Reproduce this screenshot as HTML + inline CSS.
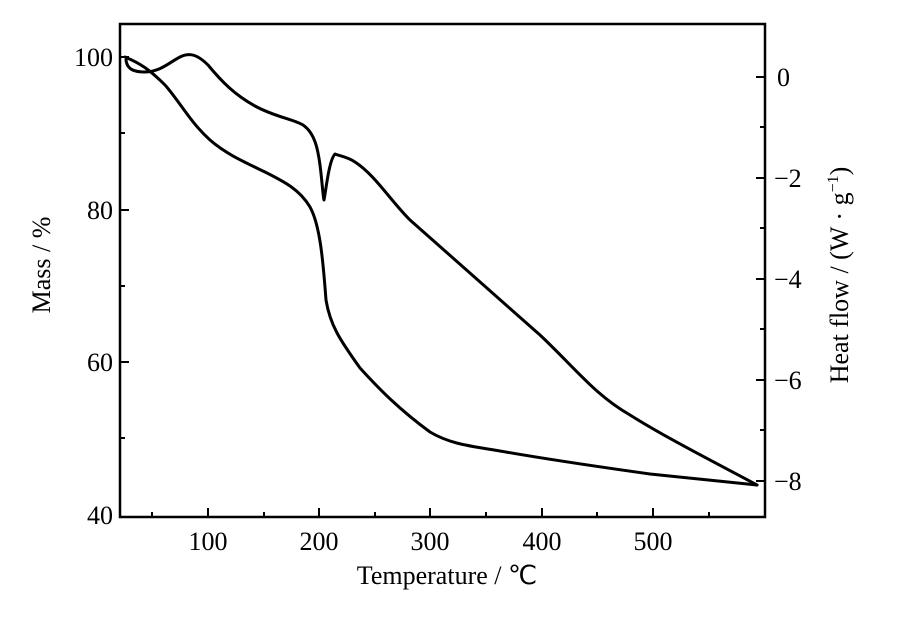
<!DOCTYPE html>
<html><head><meta charset="utf-8"><style>
body{margin:0;background:#fff}
svg text{font-family:"Liberation Serif",serif;fill:#000}
</style></head><body>
<svg width="900" height="619" viewBox="0 0 900 619">
<rect x="120" y="24" width="645" height="493" fill="none" stroke="#000" stroke-width="2.5"/>
<g stroke="#000" stroke-width="2">
<line x1="208" y1="517" x2="208" y2="508"/><line x1="319" y1="517" x2="319" y2="508"/>
<line x1="430" y1="517" x2="430" y2="508"/><line x1="542" y1="517" x2="542" y2="508"/>
<line x1="653" y1="517" x2="653" y2="508"/>
<line x1="152" y1="517" x2="152" y2="512"/><line x1="264" y1="517" x2="264" y2="512"/>
<line x1="375" y1="517" x2="375" y2="512"/><line x1="486" y1="517" x2="486" y2="512"/>
<line x1="597" y1="517" x2="597" y2="512"/><line x1="709" y1="517" x2="709" y2="512"/>
<line x1="120" y1="57" x2="129" y2="57"/><line x1="120" y1="210" x2="129" y2="210"/>
<line x1="120" y1="362" x2="129" y2="362"/>
<line x1="120" y1="133" x2="125" y2="133"/><line x1="120" y1="286" x2="125" y2="286"/>
<line x1="120" y1="438" x2="125" y2="438"/>
<line x1="765" y1="77" x2="756" y2="77"/><line x1="765" y1="178" x2="756" y2="178"/>
<line x1="765" y1="279" x2="756" y2="279"/><line x1="765" y1="380" x2="756" y2="380"/>
<line x1="765" y1="481" x2="756" y2="481"/>
<line x1="765" y1="127" x2="760" y2="127"/><line x1="765" y1="228" x2="760" y2="228"/>
<line x1="765" y1="329" x2="760" y2="329"/><line x1="765" y1="430" x2="760" y2="430"/>
</g>
<g font-size="26">
<text x="208" y="550" text-anchor="middle">100</text>
<text x="319" y="550" text-anchor="middle">200</text>
<text x="430" y="550" text-anchor="middle">300</text>
<text x="542" y="550" text-anchor="middle">400</text>
<text x="653" y="550" text-anchor="middle">500</text>
<text x="113" y="66" text-anchor="end">100</text>
<text x="113" y="219" text-anchor="end">80</text>
<text x="113" y="371" text-anchor="end">60</text>
<text x="113" y="524" text-anchor="end">40</text>
<text x="777" y="86">0</text>
<text x="774" y="187">−2</text>
<text x="774" y="288">−4</text>
<text x="774" y="389">−6</text>
<text x="774" y="490">−8</text>
<text x="447" y="584" text-anchor="middle">Temperature / ℃</text>
<text transform="translate(50,265) rotate(-90)" text-anchor="middle">Mass / %</text>
<text transform="translate(848,275) rotate(-90)" text-anchor="middle">Heat flow / (W · g<tspan dy="-10" font-size="16">−1</tspan><tspan dy="10">)</tspan></text>
</g>
<g fill="none" stroke="#000" stroke-width="3" stroke-linejoin="round" stroke-linecap="round">
<path d="M125,57 C140,63 150,70 165,85 C180,102 190,122 210,140 C225,153 240,160 265,172 C285,182 300,190 310,207 C320,225 323,260 326,300 C330,325 340,340 360,368 C380,390 400,410 430,432 C450,444 470,446 500,451 C540,458 600,467 650,474 C700,479 730,482 757,485"/>
<path d="M126,60 C127,70 135,72 145,72 C160,72 170,62 180,57 C190,52 198,55 208,65 C222,82 235,95 255,106 C275,117 293,119 303,125 C315,133 318,150 320,165 C322,180 323,197 324,200 C326,190 329,160 335,154 C340,156 348,157 355,162 C375,175 390,200 410,220 C450,255 500,300 540,335 C575,368 595,395 630,415 C670,440 720,465 757,485"/>
</g>
</svg>
</body></html>
